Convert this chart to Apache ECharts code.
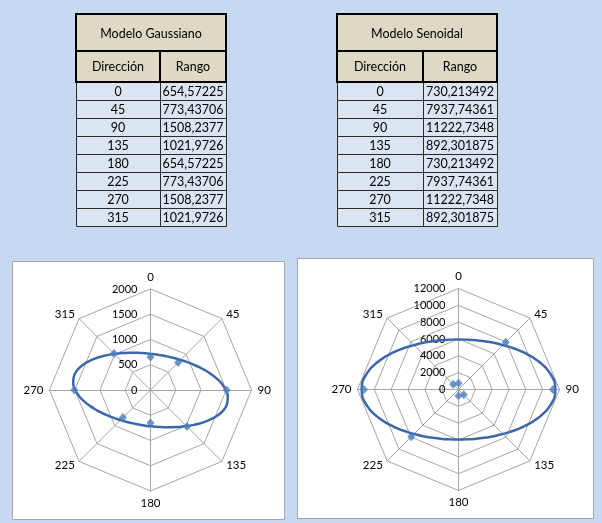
<!DOCTYPE html>
<html>
<head>
<meta charset="utf-8">
<script src="https://cdn.jsdelivr.net/npm/echarts@6/dist/echarts.min.js"></script>
<style>
  html, body { margin: 0; padding: 0; background: #c6d9f1; }
  #main { width: 602px; height: 523px; }
</style>
</head>
<body>
<div id="main"></div>
<script>
// Direction (degrees) and range of each model
const direcciones = [0, 45, 90, 135, 180, 225, 270, 315];
const rangoGaussiano = [654.57225, 773.43706, 1508.2377, 1021.9726, 654.57225, 773.43706, 1508.2377, 1021.9726];
const rangoSenoidal = [730.213492, 7937.74361, 11222.7348, 892.301875, 730.213492, 7937.74361, 11222.7348, 892.301875];

// Anisotropy ellipse of the Gaussian model (angle in degrees, radius in range units)
const elipseAngulosG = [0, 5, 10, 15, 20, 25, 30, 35, 40, 45, 50, 55, 60, 65, 70, 75, 80, 85,
                        90, 95, 100, 105, 110, 115, 120, 125, 130, 135, 140, 145, 150, 155, 160, 165, 170, 175,
                        180, 185, 190, 195, 200, 205, 210, 215, 220, 225, 230, 235, 240, 245, 250, 255, 260, 265,
                        270, 275, 280, 285, 290, 295, 300, 305, 310, 315, 320, 325, 330, 335, 340, 345, 350, 355, 360];
const elipseGaussiano = [718, 714, 713, 717, 725, 738, 756, 779, 808, 843, 886, 937, 997, 1067, 1147, 1235, 1328, 1418,
                         1492, 1537, 1541, 1504, 1434, 1346, 1253, 1164, 1082, 1010, 948, 895, 851, 814, 784, 760, 741, 727,
                         718, 714, 713, 717, 725, 738, 756, 779, 808, 843, 886, 937, 997, 1067, 1147, 1235, 1328, 1418,
                         1492, 1537, 1541, 1504, 1434, 1346, 1253, 1164, 1082, 1010, 948, 895, 851, 814, 784, 760, 741, 727, 718];

// Anisotropy ellipse of the sinusoidal model
const elipseAngulosS = [0, 10, 20, 30, 40, 50, 60, 70, 80, 90, 100, 110, 120, 130, 140, 150, 160, 170, 180,
                        190, 200, 210, 220, 230, 240, 250, 260, 270, 280, 290, 300, 310, 320, 330, 340, 350, 360];
const elipseSenoidal = [5950, 6017, 6222, 6583, 7125, 7879, 8862, 10010, 11053, 11500, 11053, 10010, 8862, 7879, 7125, 6583, 6222, 6017, 5950,
                        6017, 6222, 6583, 7125, 7879, 8862, 10010, 11053, 11500, 11053, 10010, 8862, 7879, 7125, 6583, 6222, 6017, 5950];

// Axis settings for the two diagrams
const maxGaussiano = 2000, divGaussiano = 4;
const maxSenoidal = 12000, divSenoidal = 6;

const FONT = 'Lato, "Open Sans", sans-serif';
const fmt = v => String(v).replace('.', ',');

// ---- tables drawn with graphic elements ----
function buildTable(x, colW, title, values) {
  const els = [];
  const top = 14, h1 = 37, h2 = 31, rowH = 18;
  const w = colW[0] + colW[1];
  const yData = top + h1 + h2;
  // data rows
  values.forEach((v, i) => {
    const y = yData + i * rowH;
    els.push({ type: 'rect', shape: { x: x + 0.5, y: y + 0.5, width: colW[0], height: rowH },
      style: { fill: '#dbe5f1', stroke: '#2b2b2b', lineWidth: 1 } });
    els.push({ type: 'rect', shape: { x: x + colW[0] + 0.5, y: y + 0.5, width: colW[1], height: rowH },
      style: { fill: '#dbe5f1', stroke: '#2b2b2b', lineWidth: 1 } });
    els.push({ type: 'text', x: x + colW[0] / 2, y: y + rowH / 2 + 0.5,
      style: { text: String(direcciones[i]), font: '12.5px ' + FONT, fill: '#000', align: 'center', verticalAlign: 'middle' } });
    els.push({ type: 'text', x: x + colW[0] + colW[1] / 2, y: y + rowH / 2 + 0.5,
      style: { text: fmt(v), font: '12.5px ' + FONT, fill: '#000', align: 'center', verticalAlign: 'middle' } });
  });
  // header cells with heavy borders
  els.push({ type: 'rect', shape: { x: x, y: top, width: w, height: h1 },
    style: { fill: '#ddd9c4', stroke: '#000', lineWidth: 2 } });
  els.push({ type: 'rect', shape: { x: x, y: top + h1, width: colW[0], height: h2 },
    style: { fill: '#ddd9c4', stroke: '#000', lineWidth: 2 } });
  els.push({ type: 'rect', shape: { x: x + colW[0], y: top + h1, width: colW[1], height: h2 },
    style: { fill: '#ddd9c4', stroke: '#000', lineWidth: 2 } });
  els.push({ type: 'text', x: x + w / 2, y: top + h1 / 2 + 1,
    style: { text: title, font: '12.5px ' + FONT, fill: '#000', align: 'center', verticalAlign: 'middle' } });
  els.push({ type: 'text', x: x + colW[0] / 2, y: top + h1 + h2 / 2,
    style: { text: 'Dirección', font: '12.5px ' + FONT, fill: '#000', align: 'center', verticalAlign: 'middle' } });
  els.push({ type: 'text', x: x + colW[0] + colW[1] / 2, y: top + h1 + h2 / 2,
    style: { text: 'Rango', font: '12.5px ' + FONT, fill: '#000', align: 'center', verticalAlign: 'middle' } });
  return els;
}

// white chart panels
const panels = [
  { type: 'rect', z: -10, shape: { x: 12.5, y: 261.5, width: 272, height: 258 },
    style: { fill: '#ffffff', stroke: '#a6a6a6', lineWidth: 1 } },
  { type: 'rect', z: -10, shape: { x: 297.5, y: 258.5, width: 296, height: 260 },
    style: { fill: '#ffffff', stroke: '#a6a6a6', lineWidth: 1 } }
];

// ---- radar grids (octagon, labels) ----
// radar indicators run counter-clockwise from the top
function radarGrid(center, max, div) {
  const order = [0, 7, 6, 5, 4, 3, 2, 1];
  return {
    center: center,
    radius: 101,
    startAngle: 90,
    shape: 'polygon',
    splitNumber: div,
    nameGap: 6,
    axisName: { color: '#000', fontSize: 11.5, fontFamily: FONT },
    indicator: order.map((k, i) => ({
      name: String(direcciones[k]), min: 0, max: max,
      axisLabel: i === 0 ? { show: true } : { show: false }
    })),
    axisLine: { lineStyle: { color: '#a6a6a6', width: 1 } },
    splitLine: { lineStyle: { color: '#a6a6a6', width: 1 } },
    splitArea: { show: false },
    axisTick: { show: false },
    axisLabel: { show: false, color: '#000', fontSize: 11, fontFamily: FONT, margin: 13,
                 formatter: v => String(v) }
  };
}

function polarFrame(center) {
  return { center: center, radius: 101 };
}

const centroG = [150.5, 390];
const centroS = [458.5, 389.5];

const option = {
  animation: false,
  backgroundColor: '#c6d9f1',
  graphic: { elements: panels
    .concat(buildTable(76, [84, 66], 'Modelo Gaussiano', rangoGaussiano))
    .concat(buildTable(337, [86, 74], 'Modelo Senoidal', rangoSenoidal)) },
  radar: [radarGrid(centroG, maxGaussiano, divGaussiano), radarGrid(centroS, maxSenoidal, divSenoidal)],
  polar: [polarFrame(centroG), polarFrame(centroS)],
  angleAxis: [
    { polarIndex: 0, type: 'value', min: 0, max: 360, startAngle: 90, clockwise: true, show: false },
    { polarIndex: 1, type: 'value', min: 0, max: 360, startAngle: 90, clockwise: true, show: false }
  ],
  radiusAxis: [
    { polarIndex: 0, type: 'value', min: 0, max: maxGaussiano, show: false },
    { polarIndex: 1, type: 'value', min: 0, max: maxSenoidal, show: false }
  ],
  series: [
    { type: 'line', coordinateSystem: 'polar', polarIndex: 0, smooth: true, showSymbol: false,
      lineStyle: { color: '#3c68ab', width: 2.5 }, z: 3,
      data: elipseAngulosG.map((a, i) => [elipseGaussiano[i], a]) },
    { type: 'line', coordinateSystem: 'polar', polarIndex: 1, smooth: true, showSymbol: false,
      lineStyle: { color: '#3c68ab', width: 2.5 }, z: 3,
      data: elipseAngulosS.map((a, i) => [elipseSenoidal[i], a]) },
    { type: 'scatter', coordinateSystem: 'polar', polarIndex: 0, symbol: 'diamond', symbolSize: [8, 9],
      itemStyle: { color: '#4a7ebb' }, z: 4,
      data: direcciones.map((d, i) => [rangoGaussiano[i], d]) },
    { type: 'scatter', coordinateSystem: 'polar', polarIndex: 1, symbol: 'diamond', symbolSize: [8, 9],
      itemStyle: { color: '#4a7ebb' }, z: 4,
      data: direcciones.map((d, i) => [rangoSenoidal[i], d]) }
  ]
};

const chart = echarts.init(document.getElementById('main'));
chart.setOption(option);
</script>
</body>
</html>
